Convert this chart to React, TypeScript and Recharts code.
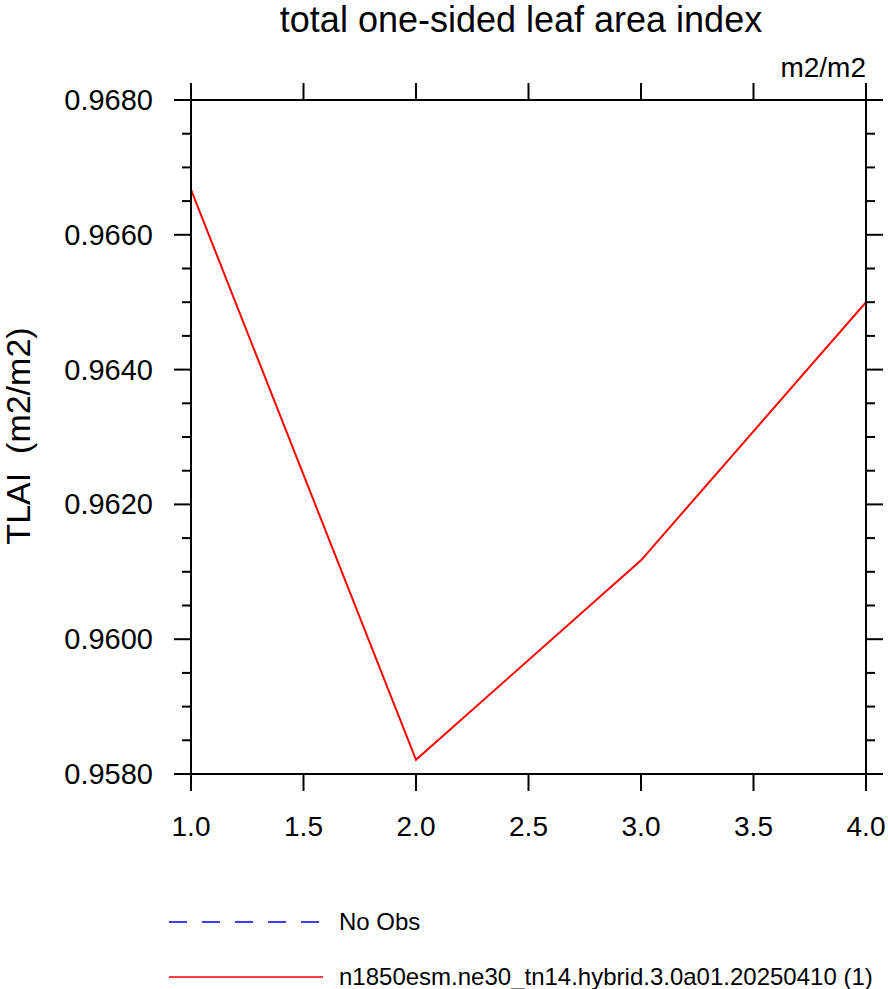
import { LineChart, Line, XAxis, YAxis, Legend } from "recharts";

const years = [1, 2, 3, 4];
const tlai = [0.96667, 0.95821, 0.96117, 0.965];
const obsName = "No Obs";
const caseName = "n1850esm.ne30_tn14.hybrid.3.0a01.20250410 (1)";

const xTicks = [1, 1.5, 2, 2.5, 3, 3.5, 4];
const yTicks = [
  0.958, 0.9585, 0.959, 0.9595, 0.96, 0.9605, 0.961, 0.9615, 0.962, 0.9625, 0.963,
  0.9635, 0.964, 0.9645, 0.965, 0.9655, 0.966, 0.9665, 0.967, 0.9675, 0.968,
];

const data = years.map((x, i) => ({ x, tlai: tlai[i], obs: null }));

const FONT = "'Liberation Sans', Arial, Helvetica, sans-serif";
const isMajor = (v: number) => Math.abs(Math.round(v * 500) - v * 500) < 1e-6;

const LeftTick = ({ x, y, payload }: any) => {
  const major = isMajor(payload.value);
  return (
    <g>
      <line x1={x} x2={x - (major ? 17 : 9)} y1={y} y2={y} stroke="#000" strokeWidth={2} />
      {major && (
        <text x={x - 38} y={y + 10} textAnchor="end" fontSize={29} fontFamily={FONT} fill="#000">
          {payload.value.toFixed(4)}
        </text>
      )}
    </g>
  );
};

const RightTick = ({ x, y, payload }: any) => {
  const major = isMajor(payload.value);
  return <line x1={x} x2={x + (major ? 17 : 9)} y1={y} y2={y} stroke="#000" strokeWidth={2} />;
};

const BottomTick = ({ x, y, payload }: any) => (
  <g>
    <line x1={x} x2={x} y1={y} y2={y + 17} stroke="#000" strokeWidth={2} />
    <text x={x} y={y + 62} textAnchor="middle" fontSize={28} fontFamily={FONT} fill="#000">
      {payload.value.toFixed(1)}
    </text>
  </g>
);

const TopTick = ({ x, y }: any) => (
  <line x1={x} x2={x} y1={y} y2={y - 17} stroke="#000" strokeWidth={2} />
);

const LegendBox = ({ payload }: any) => (
  <svg width={888} height={99} style={{ display: "block" }}>
    {(payload || []).map((entry: any, i: number) => {
      const cy = 32 + i * 55;
      const dashed = entry.dataKey === "obs";
      return (
        <g key={i}>
          <line
            x1={169}
            x2={323}
            y1={cy}
            y2={cy}
            stroke={entry.color}
            strokeWidth={dashed ? 1.3 : 1.6}
            strokeDasharray={dashed ? "18 15" : undefined}
          />
          <text x={339} y={cy + 8} fontSize={24} fontFamily={FONT} fill="#000">
            {entry.value}
          </text>
        </g>
      );
    })}
  </svg>
);

export default function App() {
  return (
    <div style={{ position: "absolute", left: 0, top: 0, width: 888, height: 989, background: "#fff" }}>
      <LineChart width={888} height={989} data={data} margin={{ top: 0, right: 0, bottom: 0, left: 0 }}>
        <XAxis
          xAxisId="bottom"
          dataKey="x"
          type="number"
          domain={[1, 4]}
          ticks={xTicks}
          interval={0}
          allowDataOverflow
          height={215}
          tickSize={0}
          tickMargin={0}
          tickLine={false}
          axisLine={{ stroke: "#000", strokeWidth: 2 }}
          tick={(p: any) => <BottomTick {...p} />}
        />
        <XAxis
          xAxisId="top"
          orientation="top"
          dataKey="x"
          type="number"
          domain={[1, 4]}
          ticks={xTicks}
          interval={0}
          allowDataOverflow
          height={100}
          tickSize={0}
          tickMargin={0}
          tickLine={false}
          axisLine={{ stroke: "#000", strokeWidth: 2 }}
          tick={(p: any) => <TopTick {...p} />}
        />
        <YAxis
          yAxisId="left"
          type="number"
          domain={[0.958, 0.968]}
          ticks={yTicks}
          interval={0}
          allowDataOverflow
          width={191}
          tickSize={0}
          tickMargin={0}
          tickLine={false}
          axisLine={{ stroke: "#000", strokeWidth: 2 }}
          tick={(p: any) => <LeftTick {...p} />}
        />
        <YAxis
          yAxisId="right"
          orientation="right"
          type="number"
          domain={[0.958, 0.968]}
          ticks={yTicks}
          interval={0}
          allowDataOverflow
          width={22}
          tickSize={0}
          tickMargin={0}
          tickLine={false}
          axisLine={{ stroke: "#000", strokeWidth: 2 }}
          tick={(p: any) => <RightTick {...p} />}
        />
        <Line
          xAxisId="bottom"
          yAxisId="left"
          dataKey="obs"
          name={obsName}
          stroke="#0000ff"
          strokeDasharray="18 15"
          dot={false}
          isAnimationActive={false}
        />
        <Line
          xAxisId="bottom"
          yAxisId="left"
          type="linear"
          dataKey="tlai"
          name={caseName}
          stroke="#ff0000"
          strokeWidth={2}
          dot={false}
          isAnimationActive={false}
        />
        <Legend
          layout="horizontal"
          verticalAlign="middle"
          align="center"
          wrapperStyle={{ position: "absolute", left: 0, top: 890, width: 888, height: 99 }}
          content={(p: any) => <LegendBox {...p} />}
        />
        <text x={521} y={32} textAnchor="middle" fontSize={36} fontFamily={FONT} fill="#000">
          total one-sided leaf area index
        </text>
        <text x={866} y={77} textAnchor="end" fontSize={28} fontFamily={FONT} fill="#000">
          m2/m2
        </text>
        <text
          x={30}
          y={436}
          transform="rotate(-90 30 436)"
          textAnchor="middle"
          fontSize={34}
          fontFamily={FONT}
          fill="#000"
          style={{ whiteSpace: "pre" }}
        >
          {"TLAI  (m2/m2)"}
        </text>
      </LineChart>
    </div>
  );
}
